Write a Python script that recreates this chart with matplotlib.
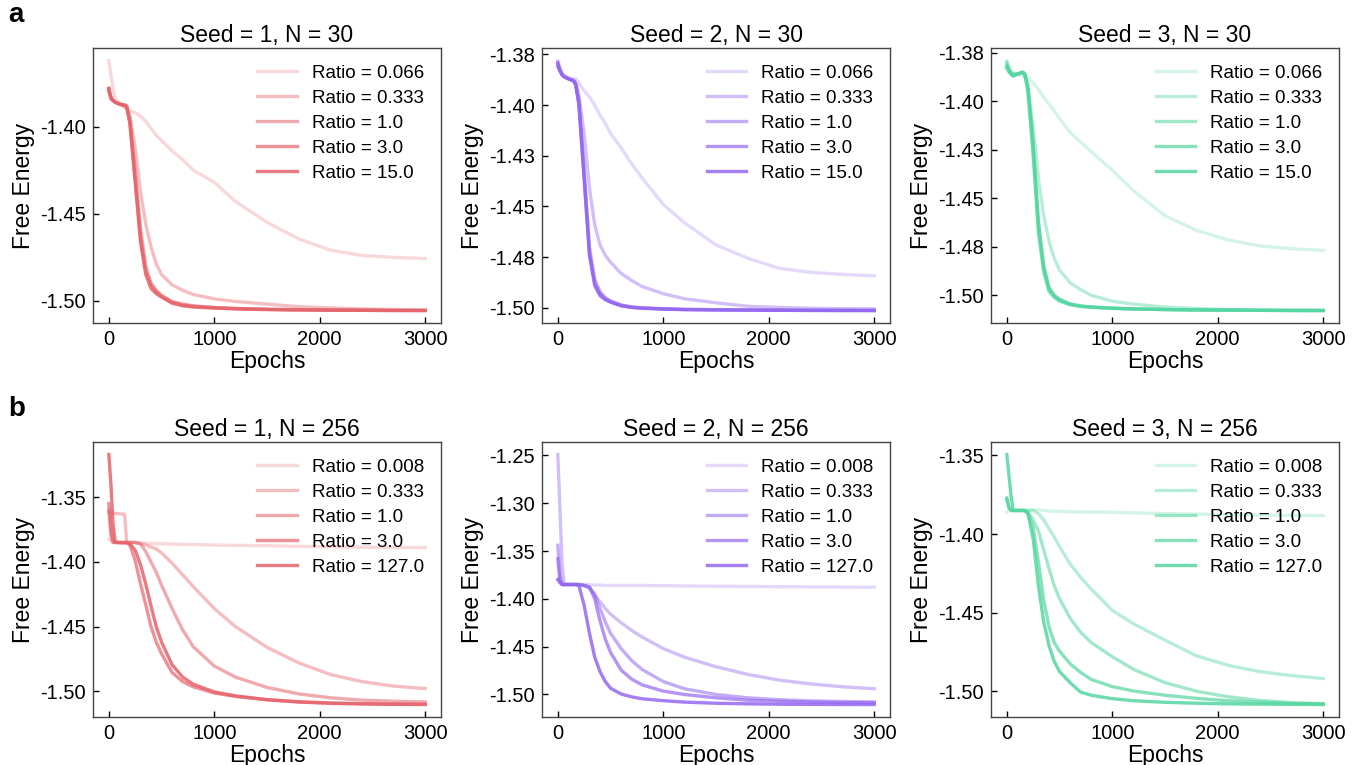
import matplotlib
matplotlib.use("Agg")
import matplotlib.pyplot as plt
from matplotlib.ticker import FuncFormatter, MultipleLocator

plt.rcParams['font.family'] = ['Liberation Sans', 'DejaVu Sans']
plt.rcParams['axes.unicode_minus'] = False

# ---------------- data ----------------
EPOCHS = [0, 20, 40, 60, 100, 150, 170, 200, 250, 300, 350, 400, 450, 500,
          600, 700, 800, 1000, 1200, 1500, 1800, 2100, 2400, 2700, 3000]

RATIOS_N30 = ["0.066", "0.333", "1.0", "3.0", "15.0"]
RATIOS_N256 = ["0.008", "0.333", "1.0", "3.0", "127.0"]

TITLES_A = ["Seed = 1, N = 30", "Seed = 2, N = 30", "Seed = 3, N = 30"]
TITLES_B = ["Seed = 1, N = 256", "Seed = 2, N = 256", "Seed = 3, N = 256"]

A1 = [
    [-1.362, -1.370, -1.378, -1.384, -1.387, -1.389, -1.390, -1.391, -1.392, -1.394, -1.397, -1.401, -1.405, -1.408,
     -1.414, -1.419, -1.425, -1.432, -1.443, -1.455, -1.4645, -1.471, -1.474, -1.4752, -1.4758],
    [-1.379, -1.384, -1.385, -1.386, -1.387, -1.388, -1.389, -1.394, -1.412, -1.437, -1.456, -1.469, -1.479, -1.485,
     -1.491, -1.494, -1.4965, -1.499, -1.5005, -1.502, -1.5035, -1.5042, -1.5048, -1.5052, -1.5055],
    [-1.380, -1.383, -1.385, -1.386, -1.387, -1.388, -1.389, -1.396, -1.425, -1.458, -1.480, -1.490, -1.494, -1.497,
     -1.5005, -1.502, -1.503, -1.504, -1.5045, -1.505, -1.5052, -1.5054, -1.5055, -1.5056, -1.5057],
    [-1.378, -1.384, -1.385, -1.386, -1.387, -1.388, -1.389, -1.398, -1.430, -1.463, -1.483, -1.491, -1.495, -1.4975,
     -1.501, -1.5025, -1.5033, -1.504, -1.5046, -1.505, -1.5053, -1.5055, -1.5056, -1.5057, -1.5057],
    [-1.378, -1.383, -1.385, -1.386, -1.387, -1.3875, -1.388, -1.398, -1.432, -1.466, -1.485, -1.493, -1.496, -1.498,
     -1.5015, -1.503, -1.5037, -1.5043, -1.5048, -1.5052, -1.5054, -1.5055, -1.5056, -1.5057, -1.5057],
]

A2 = [
    [-1.378, -1.381, -1.384, -1.385, -1.3865, -1.387, -1.387, -1.389, -1.393, -1.396, -1.400, -1.405, -1.409, -1.414,
     -1.421, -1.429, -1.436, -1.449, -1.458, -1.469, -1.4755, -1.4805, -1.4825, -1.4835, -1.4842],
    [-1.380, -1.383, -1.385, -1.386, -1.387, -1.388, -1.389, -1.395, -1.414, -1.441, -1.459, -1.469, -1.474, -1.4775,
     -1.483, -1.4865, -1.4895, -1.493, -1.4955, -1.4975, -1.4992, -1.4998, -1.5002, -1.5004, -1.5005],
    [-1.380, -1.383, -1.385, -1.386, -1.387, -1.388, -1.390, -1.398, -1.432, -1.470, -1.486, -1.492, -1.495, -1.4965,
     -1.4985, -1.4995, -1.5000, -1.5004, -1.5007, -1.5009, -1.5010, -1.5011, -1.5012, -1.5012, -1.5013],
    [-1.381, -1.383, -1.385, -1.386, -1.387, -1.388, -1.390, -1.399, -1.435, -1.473, -1.488, -1.493, -1.4955, -1.497,
     -1.4988, -1.4997, -1.5001, -1.5005, -1.5008, -1.5010, -1.5011, -1.5012, -1.5012, -1.5013, -1.5013],
    [-1.379, -1.383, -1.385, -1.386, -1.387, -1.388, -1.390, -1.400, -1.437, -1.474, -1.489, -1.494, -1.496, -1.4972,
     -1.499, -1.4998, -1.5002, -1.5006, -1.5009, -1.5010, -1.5011, -1.5012, -1.5013, -1.5013, -1.5013],
]

A3 = [
    [-1.379, -1.382, -1.384, -1.385, -1.386, -1.387, -1.3875, -1.388, -1.3905, -1.394, -1.398, -1.4015, -1.405, -1.409,
     -1.416, -1.421, -1.426, -1.4355, -1.446, -1.459, -1.4665, -1.4715, -1.4745, -1.476, -1.4768],
    [-1.381, -1.383, -1.385, -1.386, -1.386, -1.3855, -1.386, -1.393, -1.413, -1.440, -1.459, -1.472, -1.481, -1.487,
     -1.4935, -1.497, -1.500, -1.503, -1.5045, -1.506, -1.5068, -1.5073, -1.5076, -1.5077, -1.5078],
    [-1.380, -1.384, -1.386, -1.386, -1.386, -1.385, -1.386, -1.394, -1.425, -1.465, -1.486, -1.497, -1.5005, -1.5025,
     -1.5045, -1.5055, -1.506, -1.5066, -1.507, -1.5073, -1.5075, -1.5076, -1.5077, -1.5078, -1.5078],
    [-1.383, -1.385, -1.386, -1.387, -1.386, -1.385, -1.386, -1.395, -1.428, -1.468, -1.488, -1.498, -1.501, -1.503,
     -1.5048, -1.5057, -1.5062, -1.5067, -1.507, -1.5073, -1.5075, -1.5076, -1.5077, -1.5078, -1.5078],
    [-1.382, -1.384, -1.386, -1.387, -1.386, -1.385, -1.386, -1.392, -1.422, -1.462, -1.485, -1.496, -1.500, -1.502,
     -1.5045, -1.5055, -1.506, -1.5066, -1.507, -1.5073, -1.5075, -1.5076, -1.5077, -1.5078, -1.5078],
]

B1 = [
    [-1.3825, -1.384, -1.385, -1.385, -1.385, -1.385, -1.385, -1.385, -1.385, -1.3852, -1.3855, -1.3857, -1.386, -1.386,
     -1.3862, -1.3865, -1.3865, -1.387, -1.3872, -1.3875, -1.388, -1.3883, -1.3886, -1.3888, -1.389],
    [-1.3616, -1.3620, -1.3623, -1.3626, -1.3628, -1.3632, -1.385, -1.385, -1.385, -1.386, -1.387, -1.3885, -1.390, -1.393,
     -1.401, -1.410, -1.419, -1.436, -1.450, -1.466, -1.478, -1.487, -1.4925, -1.496, -1.4979],
    [-1.360, -1.380, -1.385, -1.385, -1.385, -1.385, -1.385, -1.385, -1.385, -1.386, -1.392, -1.400, -1.408, -1.418,
     -1.436, -1.4525, -1.4655, -1.4805, -1.489, -1.497, -1.502, -1.505, -1.5068, -1.5077, -1.5082],
    [-1.355, -1.375, -1.384, -1.385, -1.385, -1.385, -1.385, -1.387, -1.399, -1.417, -1.433, -1.450, -1.462, -1.471,
     -1.4855, -1.4925, -1.4965, -1.5013, -1.504, -1.5065, -1.508, -1.509, -1.5095, -1.5098, -1.510],
    [-1.317, -1.340, -1.371, -1.3845, -1.3852, -1.3852, -1.3852, -1.386, -1.391, -1.402, -1.417, -1.434, -1.450, -1.462,
     -1.4795, -1.489, -1.4945, -1.5005, -1.5035, -1.5065, -1.5083, -1.5093, -1.5098, -1.5101, -1.5102],
]

B2 = [
    [-1.379, -1.383, -1.385, -1.385, -1.385, -1.385, -1.3845, -1.385, -1.385, -1.385, -1.3855, -1.3855, -1.386, -1.386,
     -1.386, -1.386, -1.386, -1.3862, -1.3865, -1.3868, -1.387, -1.3873, -1.3875, -1.3877, -1.3878],
    [-1.249, -1.306, -1.363, -1.385, -1.385, -1.385, -1.385, -1.385, -1.386, -1.389, -1.396, -1.403, -1.410, -1.416,
     -1.425, -1.433, -1.440, -1.452, -1.461, -1.471, -1.479, -1.485, -1.489, -1.492, -1.494],
    [-1.344, -1.375, -1.385, -1.385, -1.385, -1.385, -1.385, -1.385, -1.386, -1.388, -1.395, -1.410, -1.424, -1.436,
     -1.452, -1.4645, -1.474, -1.4865, -1.494, -1.500, -1.5035, -1.5055, -1.5067, -1.5074, -1.5078],
    [-1.358, -1.380, -1.385, -1.385, -1.385, -1.385, -1.385, -1.385, -1.386, -1.3875, -1.400, -1.423, -1.442, -1.456,
     -1.4745, -1.484, -1.490, -1.4965, -1.500, -1.5035, -1.506, -1.5072, -1.508, -1.5085, -1.5088],
    [-1.380, -1.383, -1.385, -1.385, -1.385, -1.385, -1.385, -1.386, -1.407, -1.436, -1.461, -1.476, -1.4865, -1.4935,
     -1.4995, -1.5025, -1.5045, -1.5065, -1.508, -1.5092, -1.5098, -1.5102, -1.5104, -1.5105, -1.5105],
]

B3 = [
    [-1.386, -1.385, -1.385, -1.385, -1.385, -1.385, -1.385, -1.3848, -1.3845, -1.3845, -1.385, -1.3852, -1.3855, -1.3855,
     -1.3858, -1.386, -1.386, -1.3862, -1.3865, -1.387, -1.3873, -1.3876, -1.3879, -1.3881, -1.3883],
    [-1.378, -1.383, -1.385, -1.385, -1.385, -1.385, -1.385, -1.385, -1.385, -1.387, -1.391, -1.3965, -1.402, -1.408,
     -1.419, -1.4275, -1.435, -1.4485, -1.457, -1.4675, -1.4775, -1.4835, -1.4875, -1.490, -1.4919],
    [-1.377, -1.383, -1.385, -1.385, -1.385, -1.385, -1.385, -1.386, -1.391, -1.398, -1.410, -1.422, -1.433, -1.441,
     -1.4535, -1.4625, -1.469, -1.478, -1.486, -1.4945, -1.500, -1.5035, -1.5058, -1.5072, -1.5079],
    [-1.3775, -1.383, -1.385, -1.385, -1.385, -1.385, -1.385, -1.3865, -1.396, -1.418, -1.442, -1.459, -1.469, -1.4745,
     -1.4825, -1.488, -1.4925, -1.497, -1.4998, -1.5025, -1.5045, -1.506, -1.507, -1.5077, -1.508],
    [-1.3494, -1.3625, -1.3756, -1.385, -1.385, -1.385, -1.385, -1.387, -1.403, -1.433, -1.456, -1.471, -1.481, -1.4875,
     -1.4945, -1.5005, -1.5025, -1.5047, -1.506, -1.507, -1.5076, -1.508, -1.5082, -1.5083, -1.5084],
]

# ---------------- style ----------------
COLORS = ["#E5646C", "#9467F0", "#55D6A0"]
ALPHAS = [0.25, 0.42, 0.55, 0.7, 0.85]
YSTEP_A = [0.05, 0.025, 0.025]
YSTEP_B = [0.05, 0.05, 0.05]

W, H = 1358, 765
fig = plt.figure(figsize=(W / 100, H / 100), dpi=100)

col_left = [93, 542, 991]
ax_w = 348
row_top = [48, 442]
ax_h = 275


def fmt_tick(v, pos):
    return "%.2f" % round(v, 3)


rows = [
    (TITLES_A, [A1, A2, A3], RATIOS_N30, YSTEP_A),
    (TITLES_B, [B1, B2, B3], RATIOS_N256, YSTEP_B),
]

for r, (titles, panels, ratios, ysteps) in enumerate(rows):
    for c in range(3):
        left = col_left[c] / W
        bottom = 1 - (row_top[r] + ax_h) / H
        ax = fig.add_axes([left, bottom, ax_w / W, ax_h / H])
        for k, series in enumerate(panels[c]):
            ax.plot(EPOCHS, series, color=COLORS[c], alpha=ALPHAS[k], lw=2.4,
                    label=f"Ratio = {ratios[k]}")
        ax.set_title(titles[c], fontsize=16.5, pad=4)
        ax.set_xlabel("Epochs", fontsize=16.5, labelpad=1)
        ax.set_ylabel("Free Energy", fontsize=16.5, labelpad=4)
        ax.set_xticks([0, 1000, 2000, 3000])
        ax.yaxis.set_major_locator(MultipleLocator(ysteps[c]))
        ax.yaxis.set_major_formatter(FuncFormatter(fmt_tick))
        ax.tick_params(direction='in', labelsize=14.5, length=4, width=1,
                       top=False, right=False, pad=5)
        for s in ax.spines.values():
            s.set_color('#444444')
            s.set_linewidth(1.0)
        ax.legend(loc='upper right', frameon=False, fontsize=13.5,
                  handlelength=2.1, labelspacing=0.42, borderaxespad=0.5)

fig.text(8 / W, 1 - 22 / H, "a", fontsize=20, fontweight='bold')
fig.text(8 / W, 1 - 416 / H, "b", fontsize=20, fontweight='bold')

fig.savefig("out.png", dpi=100)
